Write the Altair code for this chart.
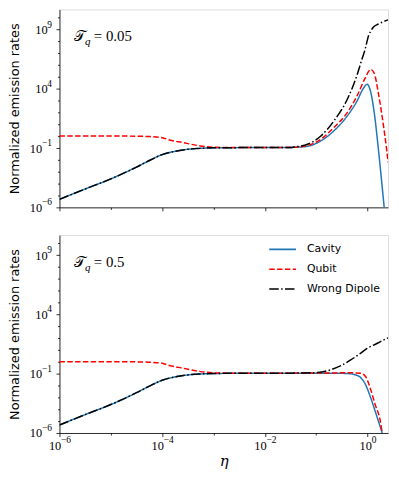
import altair as alt
import pandas as pd

SERIES = ["Cavity", "Qubit", "Wrong Dipole"]
COLORS = ["#1f77b4", "#ff0000", "#000000"]

# log10(eta), log10(rate)
# ---- panel T_q = 0.05
cav_a_x = [-6, -5.5, -5, -4.5, -4.25, -4, -3.75, -3.5, -3.25, -3, -2.5, -2, -1.55, -1.35, -1.17, -0.91, -0.66, -0.4, -0.21, -0.08, -0.01, 0.05, 0.13, 0.21, 0.275, 0.33]
cav_a_y = [-5.33, -4.45, -3.6, -2.6, -2.05, -1.55, -1.27, -1.1, -1.02, -0.98, -0.96, -0.95, -0.95, -0.92, -0.85, -0.39, 0.44, 1.69, 2.94, 4.05, 4.38, 3.91, 1.97, -1.08, -3.87, -6.3]
qub_a_x = [-6, -5, -4.5, -4.24, -4.0, -3.86, -3.6, -3.28, -2.96, -2.5, -2, -1.55, -1.35, -1.17, -0.91, -0.66, -0.4, -0.21, -0.05, 0.06, 0.13, 0.21, 0.31, 0.37, 0.4]
qub_a_y = [0.02, 0.02, 0.0, -0.03, -0.12, -0.31, -0.53, -0.8, -0.93, -0.96, -0.96, -0.95, -0.9, -0.78, -0.25, 0.72, 1.97, 3.36, 4.88, 5.63, 5.3, 3.63, 0.86, -1.08, -2.2]
dip_a_x = [-6, -5.5, -5, -4.5, -4.25, -4, -3.75, -3.5, -3.25, -3, -2.5, -2, -1.55, -1.35, -1.17, -0.91, -0.66, -0.4, -0.21, -0.11, -0.05, 0.02, 0.06, 0.11, 0.2, 0.3, 0.4]
dip_a_y = [-5.33, -4.45, -3.6, -2.6, -2.05, -1.55, -1.27, -1.1, -1.02, -0.98, -0.96, -0.95, -0.95, -0.86, -0.68, 0.02, 1.27, 3.08, 5.1, 6.5, 7.3, 8.5, 8.85, 9.2, 9.45, 9.65, 9.82]

# ---- panel T_q = 0.5
cav_b_x = [-6, -5.5, -5, -4.5, -4.25, -4, -3.75, -3.5, -3.25, -3, -2.5, -2, -1.5, -1, -0.6, -0.4, -0.24, -0.14, -0.04, 0.05, 0.147, 0.24, 0.28, 0.31]
cav_b_y = [-5.33, -4.45, -3.6, -2.6, -2.05, -1.55, -1.27, -1.1, -1.02, -0.98, -0.96, -0.95, -0.95, -0.95, -0.96, -0.98, -1.09, -1.31, -1.92, -2.9, -4.15, -5.4, -5.95, -6.5]
qub_b_x = [-6, -5, -4.5, -4.24, -4.0, -3.86, -3.6, -3.28, -2.96, -2.5, -2, -1.5, -1, -0.6, -0.4, -0.14, -0.04, 0.05, 0.147, 0.24, 0.29, 0.32]
qub_b_y = [0.02, 0.02, 0.0, -0.03, -0.12, -0.31, -0.53, -0.8, -0.93, -0.96, -0.96, -0.95, -0.94, -0.93, -0.92, -0.95, -1.23, -2.2, -3.59, -4.84, -6.1, -6.6]
dip_b_x = [-6, -5.5, -5, -4.5, -4.25, -4, -3.75, -3.5, -3.25, -3, -2.5, -2, -1.5, -1.36, -0.975, -0.72, -0.53, -0.33, -0.14, -0.01, 0.18, 0.37, 0.4]
dip_b_y = [-5.33, -4.45, -3.6, -2.6, -2.05, -1.55, -1.27, -1.1, -1.02, -0.98, -0.96, -0.95, -0.95, -0.94, -0.9, -0.67, -0.34, 0.16, 0.72, 1.13, 1.55, 1.97, 2.03]

PANEL_LABELS = ["0.05", "0.5"]

X_MAJOR = [-6, -4, -2, 0]
Y_MAJOR = [-6, -1, 4, 9]


def exp_text(e):
    return str(e).replace("-", "\u2212")


def major_test(majors):
    return " || ".join(f"round(log(datum.value)/LN10)=={e}" for e in majors)


NEG_TEST = "round(log(datum.value)/LN10) < 0"


def frame(pairs):
    rows = []
    for name, xs, ys in pairs:
        for a, b in zip(xs, ys):
            rows.append({"series": name, "x": 10 ** a, "y": 10 ** b})
    return pd.DataFrame(rows)


df_a = frame([("Cavity", cav_a_x, cav_a_y), ("Qubit", qub_a_x, qub_a_y), ("Wrong Dipole", dip_a_x, dip_a_y)])
df_b = frame([("Cavity", cav_b_x, cav_b_y), ("Qubit", qub_b_x, qub_b_y), ("Wrong Dipole", dip_b_x, dip_b_y)])
yexp_df = pd.DataFrame({"v": [10.0 ** e for e in Y_MAJOR], "t": [exp_text(e) for e in Y_MAJOR]})
xexp_df = pd.DataFrame({"v": [10.0 ** e for e in X_MAJOR], "t": [exp_text(e) for e in X_MAJOR],
                        "neg": [e < 0 for e in X_MAJOR]})

XDOM = [1e-6, 2.5]
YDOM = [1e-6, 10 ** 10.7]
W, H = 332, 200
TICKFONT = "Liberation Serif"
BASE_FS = 12.5
EXP_FS = 9.5


def panel(df, tq, bottom):
    sx = alt.Scale(type="log", domain=XDOM)
    sy = alt.Scale(type="log", domain=YDOM)
    xaxis = alt.Axis(
        values=[10.0 ** e for e in range(-6, 1)],
        labelExpr=f"({major_test(X_MAJOR)}) ? '10' : ''",
        labels=bottom,
        labelAlign="right",
        labelOffset={"condition": {"test": NEG_TEST, "value": 1.3}, "value": 3.9},
        tickSize={"condition": {"test": major_test(X_MAJOR), "value": 3.5}, "value": 2},
        tickColor="black", tickWidth=0.8, domainColor="black", domainWidth=0.8,
        grid=False, labelFont=TICKFONT, labelFontSize=BASE_FS, labelColor="black",
        labelPadding=3, labelFlush=False,
        title="\u03b7" if bottom else None,
        titleFont="DejaVu Serif", titleFontStyle="italic", titleFontWeight="normal",
        titleFontSize=15, titleColor="black", titlePadding=2,
    )
    yaxis = alt.Axis(
        values=[10.0 ** e for e in range(-6, 11)],
        labelExpr=f"({major_test(Y_MAJOR)}) ? '10' : ''",
        tickSize={"condition": {"test": major_test(Y_MAJOR), "value": 3.5}, "value": 2},
        tickColor="black", tickWidth=0.8, domainColor="black", domainWidth=0.8,
        grid=False, labelFont=TICKFONT, labelFontSize=BASE_FS, labelColor="black",
        labelPadding={"condition": {"test": NEG_TEST, "value": 14.5}, "value": 9},
        labelFlush=False,
        title="Normalized emission rates", titleFont="DejaVu Sans", titleFontSize=13,
        titleFontWeight="normal", titleColor="black", titlePadding=7.5,
    )
    if bottom:
        leg = alt.Legend(
            orient="none", legendX=211, legendY=0, title=None, symbolType="stroke",
            symbolStrokeWidth=1.6, symbolSize=729, labelFont="DejaVu Sans", labelFontSize=11,
            labelColor="black", labelOffset=10, rowPadding=0, padding=0,
        )
    else:
        leg = None
    lines = alt.Chart(df).mark_line(strokeWidth=1.5, clip=True, interpolate="monotone").encode(
        x=alt.X("x:Q", scale=sx, axis=xaxis),
        y=alt.Y("y:Q", scale=sy, axis=yaxis),
        color=alt.Color("series:N", scale=alt.Scale(domain=SERIES, range=COLORS), legend=leg),
        strokeDash=alt.StrokeDash(
            "series:N",
            scale=alt.Scale(domain=SERIES, range=[[1, 0], [5.5, 2.4], [9.6, 2.4, 1.5, 2.4]]),
            legend=leg,
        ),
    )
    # exponents of the y tick labels
    yexp = alt.Chart(yexp_df).mark_text(
        font=TICKFONT, fontSize=EXP_FS, color="black", align="right", baseline="middle", dy=-5
    ).encode(x=alt.value(-7.5), y=alt.Y("v:Q", scale=sy), text="t:N")

    ann = pd.DataFrame([
        {"x": 10 ** -5.61, "y": 10 ** 8.45, "t": "\U0001D4AF", "k": "T"},
        {"x": 10 ** -5.45, "y": 10 ** 7.95, "t": "q", "k": "q"},
        {"x": 10 ** -5.33, "y": 10 ** 8.45, "t": "= " + tq, "k": "v"},
    ])
    base = alt.Chart(ann)
    t1 = base.transform_filter("datum.k=='T'").mark_text(
        font="DejaVu Serif", fontSize=15, color="black", baseline="middle", align="center"
    ).encode(x=alt.X("x:Q", scale=sx), y=alt.Y("y:Q", scale=sy), text="t:N")
    t2 = base.transform_filter("datum.k=='q'").mark_text(
        font="Liberation Serif", fontSize=11, fontStyle="italic", color="black", baseline="middle", align="center"
    ).encode(x=alt.X("x:Q", scale=sx), y=alt.Y("y:Q", scale=sy), text="t:N")
    t3 = base.transform_filter("datum.k=='v'").mark_text(
        font="Liberation Serif", fontSize=15, color="black", baseline="middle", align="left"
    ).encode(x=alt.X("x:Q", scale=sx), y=alt.Y("y:Q", scale=sy), text="t:N")
    layers = [lines, yexp, t1, t2, t3]
    if bottom:
        xbase = alt.Chart(xexp_df)
        xneg = xbase.transform_filter("datum.neg").mark_text(
            font=TICKFONT, fontSize=EXP_FS, color="black", align="left", baseline="top", dx=1.6
        ).encode(x=alt.X("v:Q", scale=sx), y=alt.value(H + 2.5), text="t:N")
        xpos = xbase.transform_filter("!datum.neg").mark_text(
            font=TICKFONT, fontSize=EXP_FS, color="black", align="left", baseline="top", dx=4.2
        ).encode(x=alt.X("v:Q", scale=sx), y=alt.value(H + 2.5), text="t:N")
        layers += [xneg, xpos]
    return alt.layer(*layers).properties(width=W, height=H)


chart = alt.vconcat(
    panel(df_a, PANEL_LABELS[0], False),
    panel(df_b, PANEL_LABELS[1], True),
    spacing=20,
).resolve_scale(color="independent", strokeDash="independent").resolve_legend(
    color="independent", strokeDash="independent"
).properties(
    padding={"left": 0, "top": -2, "right": 2, "bottom": 2}
).configure_view(stroke="black", strokeWidth=0.8).configure(background="white")

chart.save("out.html", embed_options={"renderer": "svg", "actions": False})
